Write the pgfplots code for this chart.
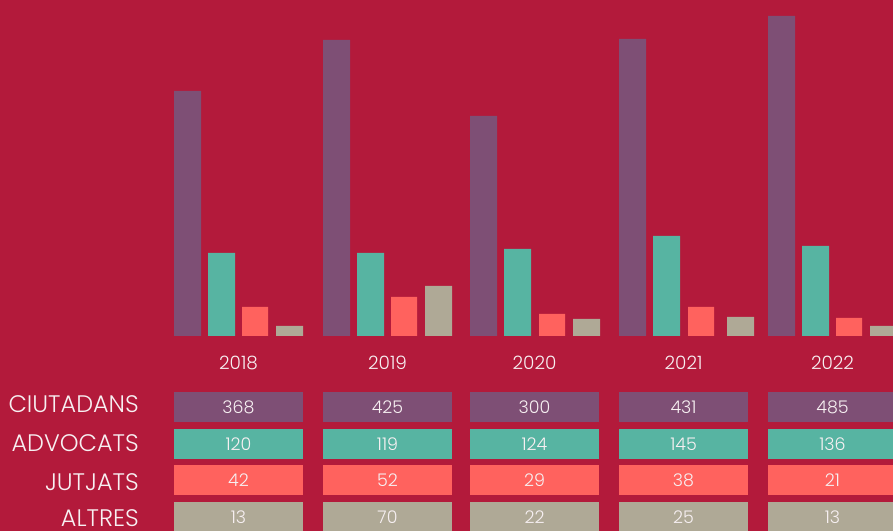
\documentclass[border=0pt]{standalone}
\usepackage{fontspec}
\setmainfont{Poppins Light}
\usepackage{pgfplots}
\pgfplotsset{compat=1.18}
\definecolor{bg}{HTML}{B31A3B}
\definecolor{cpur}{HTML}{7E4F75}
\definecolor{cteal}{HTML}{57B4A2}
\definecolor{ccor}{HTML}{FF625E}
\definecolor{cgray}{HTML}{AFA996}
\definecolor{txt}{HTML}{F7F0F2}

% table cell values: year-center x, row y, value
\pgfplotstableread{
x y lab
238.5 124 368
387.5 124 425
534.5 124 300
683.5 124 431
832.5 124 485
238.5 87 120
387.5 87 119
534.5 87 124
683.5 87 145
832.5 87 136
238.5 51 42
387.5 51 52
534.5 51 29
683.5 51 38
832.5 51 21
238.5 14 13
387.5 14 70
534.5 14 22
683.5 14 25
832.5 14 13
}\cellvals

\pgfplotstableread{
x y lab
238.5 168.3 2018
387.5 168.3 2019
534.5 168.3 2020
683.5 168.3 2021
832.5 168.3 2022
}\yearlabs

\pgfplotstableread{
x y lab
139 126.7 CIUTADANS
139 87.7 ADVOCATS
139 49.3 JUTJATS
139 13.2 ALTRES
}\rowlabs

\begin{document}
\begin{tikzpicture}[x=1bp,y=1bp]
\useasboundingbox (0,0) rectangle (893,531);
\fill[bg] (0,0) rectangle (893,531);
% ---- bars (heights as drawn in the picture)
\begin{axis}[at={(0,195)}, anchor=south west, scale only axis,
  width=893bp, height=336bp, xmin=0, xmax=893, ymin=0, ymax=336, hide axis]
\addplot[ybar, bar width=27, bar shift=0pt, fill=cpur, draw=none]
  coordinates {(187.5,245) (336.5,296) (483.5,220) (632.5,297) (781.5,320)};
\addplot[ybar, bar width=27, bar shift=0pt, fill=cteal, draw=none]
  coordinates {(221.5,83) (370.5,83) (517.5,87) (666.5,100) (815.5,90)};
\addplot[ybar, bar width=26, bar shift=0pt, fill=ccor, draw=none]
  coordinates {(255,29) (404,39) (552,22) (701,29) (849,18)};
\addplot[ybar, bar width=27, bar shift=0pt, fill=cgray, draw=none]
  coordinates {(289.5,10) (438.5,50) (586.5,17) (740.5,19) (883.5,10)};
\end{axis}
% ---- table
\begin{axis}[at={(0,0)}, anchor=south west, scale only axis,
  width=893bp, height=531bp, xmin=0, xmax=893, ymin=0, ymax=531, hide axis,
  unbounded coords=jump]
\addplot[cpur, line width=30bp] coordinates {(174,124) (303,124) (303,nan) (323,124) (452,124) (452,nan) (470,124) (599,124) (599,nan) (619,124) (748,124) (748,nan) (768,124) (897,124)};
\addplot[cteal, line width=30bp] coordinates {(174,87) (303,87) (303,nan) (323,87) (452,87) (452,nan) (470,87) (599,87) (599,nan) (619,87) (748,87) (748,nan) (768,87) (897,87)};
\addplot[ccor, line width=30bp] coordinates {(174,51) (303,51) (303,nan) (323,51) (452,51) (452,nan) (470,51) (599,51) (599,nan) (619,51) (748,51) (748,nan) (768,51) (897,51)};
\addplot[cgray, line width=30bp] coordinates {(174,14) (303,14) (303,nan) (323,14) (452,14) (452,nan) (470,14) (599,14) (599,nan) (619,14) (748,14) (748,nan) (768,14) (897,14)};
\addplot[only marks, mark=none, nodes near coords, point meta=explicit symbolic,
  every node near coord/.append style={anchor=center, inner sep=0pt, text=txt,
  font=\fontsize{17.5}{17.5}\selectfont}]
  table[x=x, y=y, meta=lab] {\cellvals};
\addplot[only marks, mark=none, nodes near coords, point meta=explicit symbolic,
  every node near coord/.append style={anchor=center, inner sep=0pt, text=txt,
  font=\fontsize{18.5}{18.5}\selectfont}]
  table[x=x, y=y, meta=lab] {\yearlabs};
\addplot[only marks, mark=none, nodes near coords, point meta=explicit symbolic,
  every node near coord/.append style={anchor=east, inner sep=0pt, text=txt,
  font=\fontsize{24}{24}\selectfont}]
  table[x=x, y=y, meta=lab] {\rowlabs};
\end{axis}
\end{tikzpicture}
\end{document}
